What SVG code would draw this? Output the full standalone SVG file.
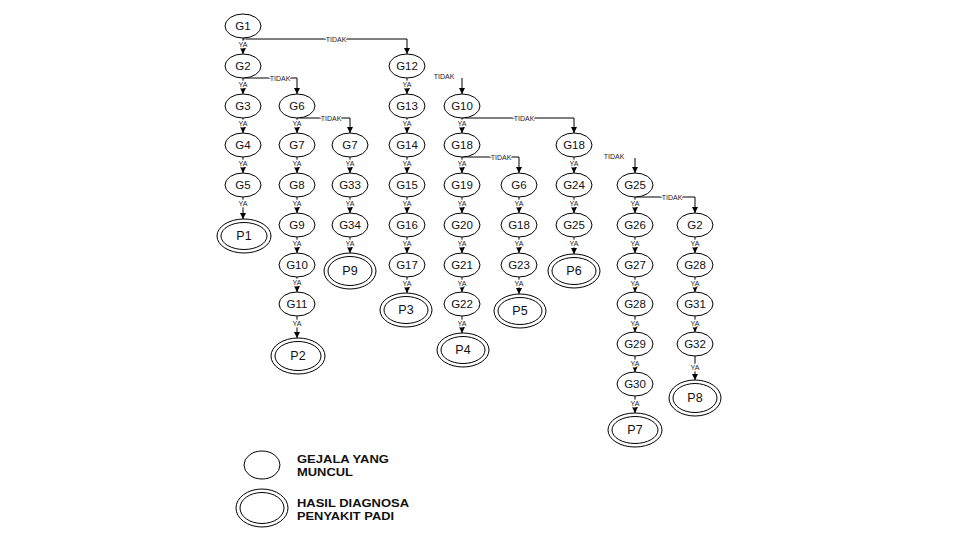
<svg xmlns="http://www.w3.org/2000/svg" width="960" height="540" viewBox="0 0 960 540">
<defs>
<marker id="ah" viewBox="0 0 6 6" refX="6" refY="3" markerWidth="6" markerHeight="6" markerUnits="userSpaceOnUse" orient="auto">
<path d="M0,0 L6,3 L0,6 Z" fill="#000"/>
</marker>
<style>
.n ellipse{fill:#fff;stroke:#000;stroke-width:1}
.n text{font-family:"Liberation Sans",Arial,sans-serif;font-size:11.5px;text-anchor:middle;dominant-baseline:central;fill:#111}
.p text{font-size:12.5px}
#edges path{fill:none;stroke:#000;stroke-width:1}
#edges path.a{marker-end:url(#ah)}
.l{font-family:"Liberation Sans",Arial,sans-serif;font-size:7px;text-anchor:middle;fill:#222;stroke:#fff;stroke-width:2.5px;paint-order:stroke}
.lg{font-family:"Liberation Sans",Arial,sans-serif;font-size:11px;font-weight:bold;fill:#000}
</style>
</defs>
<rect width="960" height="540" fill="#fff"/>
<g id="edges">
<!-- column 1 -->
<path class="a" d="M243,38V54"/><path class="a" d="M243,78V94"/><path class="a" d="M243,118V133"/><path class="a" d="M243,157V173"/><path class="a" d="M243,197V219"/>
<!-- column 2 -->
<path class="a" d="M297,118V133"/><path class="a" d="M297,157V173"/><path class="a" d="M297,197V213"/><path class="a" d="M297,237V253"/><path class="a" d="M297,277V292"/><path class="a" d="M297,316V338"/>
<!-- column 3 -->
<path class="a" d="M350,157V173"/><path class="a" d="M350,197V213"/><path class="a" d="M350,237V253"/>
<!-- column 4 -->
<path class="a" d="M407,78V94"/><path class="a" d="M407,118V133"/><path class="a" d="M407,157V173"/><path class="a" d="M407,197V213"/><path class="a" d="M407,237V253"/><path class="a" d="M407,277V293"/>
<!-- column 5 -->
<path class="a" d="M462,118V133"/><path class="a" d="M462,157V173"/><path class="a" d="M462,197V213"/><path class="a" d="M462,237V253"/><path class="a" d="M462,277V292"/><path class="a" d="M462,316V333"/>
<!-- column 6 -->
<path class="a" d="M519,197V213"/><path class="a" d="M519,237V253"/><path class="a" d="M519,277V294"/>
<!-- column 7 -->
<path class="a" d="M574,157V173"/><path class="a" d="M574,197V213"/><path class="a" d="M574,237V254"/>
<!-- column 8 -->
<path class="a" d="M635,197V213"/><path class="a" d="M635,237V253"/><path class="a" d="M635,277V292"/><path class="a" d="M635,316V332"/><path class="a" d="M635,356V372"/><path class="a" d="M635,396V413"/>
<!-- column 9 -->
<path class="a" d="M695,237V253"/><path class="a" d="M695,277V292"/><path class="a" d="M695,316V332"/><path class="a" d="M695,356V380"/>
<!-- TIDAK branches -->
<path class="a" d="M243,39H407V54"/>
<path class="a" d="M243,78H297V94"/>
<path class="a" d="M297,118H350V133"/>
<path class="a" d="M462,78V94"/>
<path class="a" d="M462,118H574V133"/>
<path class="a" d="M462,157H519V173"/>
<path class="a" d="M635,158V173"/>
<path class="a" d="M635,197H695V213"/>
<!-- YA labels -->
<g>
<text class="l" x="243" y="47">YA</text><text class="l" x="243" y="87">YA</text><text class="l" x="243" y="126">YA</text><text class="l" x="243" y="166">YA</text><text class="l" x="243" y="206">YA</text>
<text class="l" x="297" y="126">YA</text><text class="l" x="297" y="166">YA</text><text class="l" x="297" y="206">YA</text><text class="l" x="297" y="246">YA</text><text class="l" x="297" y="285">YA</text><text class="l" x="297" y="326">YA</text>
<text class="l" x="350" y="166">YA</text><text class="l" x="350" y="206">YA</text><text class="l" x="350" y="246">YA</text>
<text class="l" x="407" y="87">YA</text><text class="l" x="407" y="126">YA</text><text class="l" x="407" y="166">YA</text><text class="l" x="407" y="206">YA</text><text class="l" x="407" y="246">YA</text><text class="l" x="407" y="286">YA</text>
<text class="l" x="462" y="126">YA</text><text class="l" x="462" y="166">YA</text><text class="l" x="462" y="206">YA</text><text class="l" x="462" y="246">YA</text><text class="l" x="462" y="286">YA</text><text class="l" x="462" y="326">YA</text>
<text class="l" x="519" y="206">YA</text><text class="l" x="519" y="246">YA</text><text class="l" x="519" y="286">YA</text>
<text class="l" x="574" y="166">YA</text><text class="l" x="574" y="206">YA</text><text class="l" x="574" y="246">YA</text>
<text class="l" x="635" y="206">YA</text><text class="l" x="635" y="246">YA</text><text class="l" x="635" y="286">YA</text><text class="l" x="635" y="326">YA</text><text class="l" x="635" y="366">YA</text><text class="l" x="635" y="406">YA</text>
<text class="l" x="695" y="246">YA</text><text class="l" x="695" y="286">YA</text><text class="l" x="695" y="326">YA</text><text class="l" x="695" y="370">YA</text>
</g>
<!-- TIDAK labels -->
<g>
<text class="l" x="336" y="41.5">TIDAK</text>
<text class="l" x="280" y="80.5">TIDAK</text>
<text class="l" x="331" y="120.5">TIDAK</text>
<text class="l" x="444" y="79">TIDAK</text>
<text class="l" x="524" y="120.5">TIDAK</text>
<text class="l" x="501" y="159.5">TIDAK</text>
<text class="l" x="614" y="159">TIDAK</text>
<text class="l" x="672" y="199.5">TIDAK</text>
</g>
</g>
<!-- column 1 -->
<g id="c1-G1" class="n"><ellipse cx="243" cy="26" rx="18" ry="12"/><text x="243" y="26">G1</text></g>
<g id="c1-G2" class="n"><ellipse cx="243" cy="66" rx="18" ry="12"/><text x="243" y="66">G2</text></g>
<g id="c1-G3" class="n"><ellipse cx="243" cy="106" rx="18" ry="12"/><text x="243" y="106">G3</text></g>
<g id="c1-G4" class="n"><ellipse cx="243" cy="145" rx="18" ry="12"/><text x="243" y="145">G4</text></g>
<g id="c1-G5" class="n"><ellipse cx="243" cy="185" rx="18" ry="12"/><text x="243" y="185">G5</text></g>
<g id="c1-P1" class="n p"><ellipse cx="244" cy="236" rx="27" ry="17"/><ellipse cx="244" cy="236" rx="23" ry="13.5"/><text x="244" y="236">P1</text></g>
<!-- column 2 -->
<g id="c2-G6" class="n"><ellipse cx="297" cy="106" rx="18" ry="12"/><text x="297" y="106">G6</text></g>
<g id="c2-G7" class="n"><ellipse cx="297" cy="145" rx="18" ry="12"/><text x="297" y="145">G7</text></g>
<g id="c2-G8" class="n"><ellipse cx="297" cy="185" rx="18" ry="12"/><text x="297" y="185">G8</text></g>
<g id="c2-G9" class="n"><ellipse cx="297" cy="225" rx="18" ry="12"/><text x="297" y="225">G9</text></g>
<g id="c2-G10" class="n"><ellipse cx="297" cy="265" rx="18" ry="12"/><text x="297" y="265">G10</text></g>
<g id="c2-G11" class="n"><ellipse cx="297" cy="304" rx="18" ry="12"/><text x="297" y="304">G11</text></g>
<g id="c2-P2" class="n p"><ellipse cx="298" cy="356" rx="27" ry="18"/><ellipse cx="298" cy="356" rx="23" ry="14.5"/><text x="298" y="356">P2</text></g>
<!-- column 3 -->
<g id="c3-G7" class="n"><ellipse cx="350" cy="145" rx="18" ry="12"/><text x="350" y="145">G7</text></g>
<g id="c3-G33" class="n"><ellipse cx="350" cy="185" rx="18" ry="12"/><text x="350" y="185">G33</text></g>
<g id="c3-G34" class="n"><ellipse cx="350" cy="225" rx="18" ry="12"/><text x="350" y="225">G34</text></g>
<g id="c3-P9" class="n p"><ellipse cx="350" cy="271" rx="26" ry="18"/><ellipse cx="350" cy="271" rx="22" ry="14.5"/><text x="350" y="271">P9</text></g>
<!-- column 4 -->
<g id="c4-G12" class="n"><ellipse cx="407" cy="66" rx="18" ry="12"/><text x="407" y="66">G12</text></g>
<g id="c4-G13" class="n"><ellipse cx="407" cy="106" rx="18" ry="12"/><text x="407" y="106">G13</text></g>
<g id="c4-G14" class="n"><ellipse cx="407" cy="145" rx="18" ry="12"/><text x="407" y="145">G14</text></g>
<g id="c4-G15" class="n"><ellipse cx="407" cy="185" rx="18" ry="12"/><text x="407" y="185">G15</text></g>
<g id="c4-G16" class="n"><ellipse cx="407" cy="225" rx="18" ry="12"/><text x="407" y="225">G16</text></g>
<g id="c4-G17" class="n"><ellipse cx="407" cy="265" rx="18" ry="12"/><text x="407" y="265">G17</text></g>
<g id="c4-P3" class="n p"><ellipse cx="406" cy="310" rx="26" ry="17"/><ellipse cx="406" cy="310" rx="22" ry="13.5"/><text x="406" y="310">P3</text></g>
<!-- column 5 -->
<g id="c5-G10" class="n"><ellipse cx="462" cy="106" rx="18" ry="12"/><text x="462" y="106">G10</text></g>
<g id="c5-G18" class="n"><ellipse cx="462" cy="145" rx="18" ry="12"/><text x="462" y="145">G18</text></g>
<g id="c5-G19" class="n"><ellipse cx="462" cy="185" rx="18" ry="12"/><text x="462" y="185">G19</text></g>
<g id="c5-G20" class="n"><ellipse cx="462" cy="225" rx="18" ry="12"/><text x="462" y="225">G20</text></g>
<g id="c5-G21" class="n"><ellipse cx="462" cy="265" rx="18" ry="12"/><text x="462" y="265">G21</text></g>
<g id="c5-G22" class="n"><ellipse cx="462" cy="304" rx="18" ry="12"/><text x="462" y="304">G22</text></g>
<g id="c5-P4" class="n p"><ellipse cx="463" cy="350" rx="26" ry="17"/><ellipse cx="463" cy="350" rx="22" ry="13.5"/><text x="463" y="350">P4</text></g>
<!-- column 6 -->
<g id="c6-G6" class="n"><ellipse cx="519" cy="185" rx="18" ry="12"/><text x="519" y="185">G6</text></g>
<g id="c6-G18" class="n"><ellipse cx="519" cy="225" rx="18" ry="12"/><text x="519" y="225">G18</text></g>
<g id="c6-G23" class="n"><ellipse cx="519" cy="265" rx="18" ry="12"/><text x="519" y="265">G23</text></g>
<g id="c6-P5" class="n p"><ellipse cx="520" cy="311" rx="26" ry="17"/><ellipse cx="520" cy="311" rx="22" ry="13.5"/><text x="520" y="311">P5</text></g>
<!-- column 7 -->
<g id="c7-G18" class="n"><ellipse cx="574" cy="145" rx="18" ry="12"/><text x="574" y="145">G18</text></g>
<g id="c7-G24" class="n"><ellipse cx="574" cy="185" rx="18" ry="12"/><text x="574" y="185">G24</text></g>
<g id="c7-G25" class="n"><ellipse cx="574" cy="225" rx="18" ry="12"/><text x="574" y="225">G25</text></g>
<g id="c7-P6" class="n p"><ellipse cx="574" cy="271" rx="26" ry="17"/><ellipse cx="574" cy="271" rx="22" ry="13.5"/><text x="574" y="271">P6</text></g>
<!-- column 8 -->
<g id="c8-G25" class="n"><ellipse cx="635" cy="185" rx="18" ry="12"/><text x="635" y="185">G25</text></g>
<g id="c8-G26" class="n"><ellipse cx="635" cy="225" rx="18" ry="12"/><text x="635" y="225">G26</text></g>
<g id="c8-G27" class="n"><ellipse cx="635" cy="265" rx="18" ry="12"/><text x="635" y="265">G27</text></g>
<g id="c8-G28" class="n"><ellipse cx="635" cy="304" rx="18" ry="12"/><text x="635" y="304">G28</text></g>
<g id="c8-G29" class="n"><ellipse cx="635" cy="344" rx="18" ry="12"/><text x="635" y="344">G29</text></g>
<g id="c8-G30" class="n"><ellipse cx="635" cy="384" rx="18" ry="12"/><text x="635" y="384">G30</text></g>
<g id="c8-P7" class="n p"><ellipse cx="635" cy="430" rx="27" ry="17"/><ellipse cx="635" cy="430" rx="23" ry="13.5"/><text x="635" y="430">P7</text></g>
<!-- column 9 -->
<g id="c9-G2" class="n"><ellipse cx="695" cy="225" rx="18" ry="12"/><text x="695" y="225">G2</text></g>
<g id="c9-G28" class="n"><ellipse cx="695" cy="265" rx="18" ry="12"/><text x="695" y="265">G28</text></g>
<g id="c9-G31" class="n"><ellipse cx="695" cy="304" rx="18" ry="12"/><text x="695" y="304">G31</text></g>
<g id="c9-G32" class="n"><ellipse cx="695" cy="344" rx="18" ry="12"/><text x="695" y="344">G32</text></g>
<g id="c9-P8" class="n p"><ellipse cx="695" cy="398" rx="26" ry="18"/><ellipse cx="695" cy="398" rx="22" ry="14.5"/><text x="695" y="398">P8</text></g>
<!-- legend -->
<g id="legend-gejala" class="n"><ellipse cx="262" cy="465" rx="18" ry="14"/>
<text class="lg" x="297" y="463" style="text-anchor:start;dominant-baseline:auto" textLength="92" lengthAdjust="spacingAndGlyphs">GEJALA YANG</text>
<text class="lg" x="297" y="476" style="text-anchor:start;dominant-baseline:auto" textLength="56" lengthAdjust="spacingAndGlyphs">MUNCUL</text></g>
<g id="legend-hasil" class="n"><ellipse cx="262" cy="508" rx="26" ry="19"/><ellipse cx="262" cy="508" rx="22" ry="15.5"/>
<text class="lg" x="297" y="506.5" style="text-anchor:start;dominant-baseline:auto" textLength="112" lengthAdjust="spacingAndGlyphs">HASIL DIAGNOSA</text>
<text class="lg" x="297" y="519.5" style="text-anchor:start;dominant-baseline:auto" textLength="97" lengthAdjust="spacingAndGlyphs">PENYAKIT PADI</text></g>
</svg>
